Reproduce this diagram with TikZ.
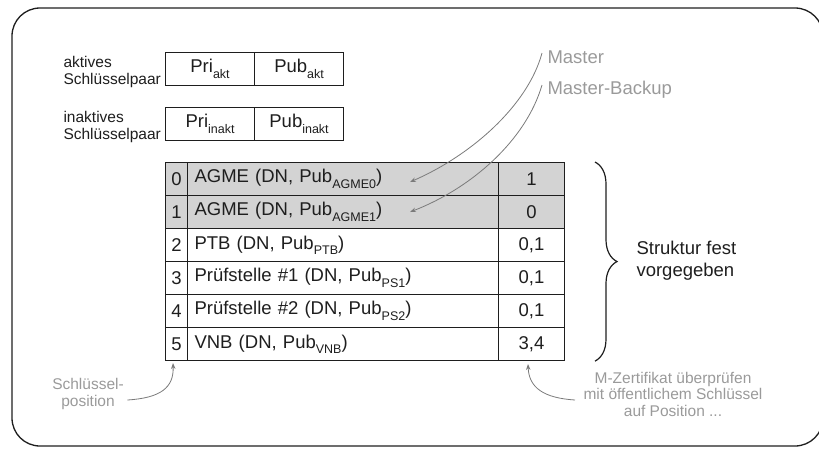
\documentclass[tikz,border=0pt]{standalone}
\usepackage{fontspec}
\setmainfont{Liberation Sans}
\usetikzlibrary{decorations.pathreplacing,arrows.meta}

\newcommand\tblfont{\fontsize{18.5}{22}\selectfont}
\newcommand\notefont{\fontsize{15.5}{16.5}\selectfont}
\newcommand\lowsub[1]{\raisebox{-5.5pt}{\fontsize{12.5}{13}\selectfont #1}}

\definecolor{notegray}{HTML}{9A9A9A}
\definecolor{arrowgray}{HTML}{7A7A7A}
\definecolor{rowgray}{HTML}{D3D3D3}
\definecolor{ink}{HTML}{1E1E1E}

\begin{document}
\begin{tikzpicture}[x=1pt,y=-1pt,
  cellbox/.style={draw=ink, line width=1.1pt, minimum height=33pt, inner sep=0pt,
    anchor=north west, font=\tblfont, text=ink},
  idxcell/.style={cellbox, minimum width=22pt},
  namecell/.style={cellbox, minimum width=311pt, text width=297pt, inner xsep=7pt, align=left},
  valcell/.style={cellbox, minimum width=66pt},
  keycell/.style={cellbox, minimum width=89pt},
  shaded/.style={fill=rowgray},
  label/.style={font=\notefont, text=ink, align=left, anchor=west},
  note/.style={font=\notefont, text=notegray, align=center},
  tag/.style={font=\tblfont, text=notegray, anchor=west},
  pointer/.style={draw=arrowgray, line width=0.8pt, -{Stealth[length=6pt,width=4.5pt]}},
  leader/.style={draw=arrowgray, line width=0.8pt}
]
\useasboundingbox (0,0) rectangle (819,448);

% outer frame
\draw[line width=1.3pt, ink, rounded corners=28pt] (12,8) rectangle (823,446);

% key pairs
\node[label] (lakt) at (60,72) {aktives\\Schlüsselpaar};
\node[keycell] (priakt) at (165,52) {Pri\lowsub{akt}};
\node[keycell] (pubakt) at (254,52) {Pub\lowsub{akt}};
\node[label] (linakt) at (60,127) {inaktives\\Schlüsselpaar};
\node[keycell] (priinakt) at (165,107) {Pri\lowsub{inakt}};
\node[keycell] (pubinakt) at (254,107) {Pub\lowsub{inakt}};

% key table
\node[idxcell, shaded] (i0) at (165,162) {0};
\node[namecell, shaded] (n0) at (187,162) {AGME (DN, Pub\lowsub{AGME0})};
\node[valcell, shaded] (v0) at (498,162) {1};
\node[idxcell, shaded] (i1) at (165,195) {1};
\node[namecell, shaded] (n1) at (187,195) {AGME (DN, Pub\lowsub{AGME1})};
\node[valcell, shaded] (v1) at (498,195) {0};
\node[idxcell] (i2) at (165,228) {2};
\node[namecell] (n2) at (187,228) {PTB (DN, Pub\lowsub{PTB})};
\node[valcell] (v2) at (498,228) {0,1};
\node[idxcell] (i3) at (165,261) {3};
\node[namecell] (n3) at (187,261) {Prüfstelle \#1 (DN, Pub\lowsub{PS1})};
\node[valcell] (v3) at (498,261) {0,1};
\node[idxcell] (i4) at (165,294) {4};
\node[namecell] (n4) at (187,294) {Prüfstelle \#2 (DN, Pub\lowsub{PS2})};
\node[valcell] (v4) at (498,294) {0,1};
\node[idxcell] (i5) at (165,327) {5};
\node[namecell] (n5) at (187,327) {VNB (DN, Pub\lowsub{VNB})};
\node[valcell] (v5) at (498,327) {3,4};

% fixed structure brace
\draw[ink, line width=1.2pt, decorate, decoration={brace, amplitude=22pt}]
  (v0.north east -| 595,0) -- (v5.south east -| 595,0);
\node[label, font=\tblfont] (fixed) at (633,261) {Struktur fest\\vorgegeben};

% master references
\node[tag] (master) at (544,57) {Master};
\node[tag] (backup) at (544,90) {Master-Backup};
\coordinate (m0) at (410,182);
\coordinate (m1) at (410,212);
\draw[pointer] ([xshift=-2pt,yshift=4pt]master.west) .. controls (528,105) and (472,155) .. (m0);
\draw[pointer] ([xshift=-2pt,yshift=5pt]backup.west) .. controls (526,140) and (472,188) .. (m1);

% key position note
\node[note] (pos) at (88,394) {Schlüssel-\\position};
\coordinate (p0) at (173,363);
\draw[pointer] (pos.east |- 0,400) .. controls (160,398) and (174,388) .. (p0);

% certificate check note
\node[note] (check) at (673,394) {M-Zertifikat überprüfen\\mit öffentlichem Schlüssel\\auf Position ...};
\coordinate (c0) at (528,364);
\draw[pointer] (575,400) .. controls (544,398) and (529,388) .. (c0);
\end{tikzpicture}
\end{document}
